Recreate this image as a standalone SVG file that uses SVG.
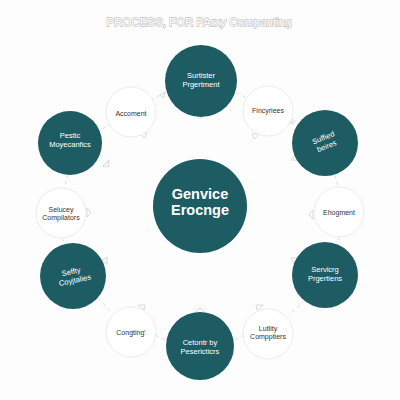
<svg xmlns="http://www.w3.org/2000/svg" width="400" height="400" viewBox="0 0 400 400">
<defs>
<style>
.dark{fill:#1e5c64}
.light{fill:#ffffff;stroke:#ececec;stroke-width:1}
.tw{fill:#ffffff;font-family:"Liberation Sans",Arial,sans-serif;font-size:7.5px;text-anchor:middle}
.tb{fill:#333333;font-family:"Liberation Sans",Arial,sans-serif;font-size:7px;text-anchor:middle}
.big{font-size:14.5px;font-weight:bold}
.conn{stroke:#d9d9d9;stroke-width:0.9;stroke-dasharray:4 3;fill:none}
.tri{fill:#ffffff;stroke:#cfcfcf;stroke-width:0.8}
</style>
</defs>
<rect width="400" height="400" fill="#fdfdfd"/>
<text x="199" y="26" font-family="Liberation Sans,Arial,sans-serif" font-size="11.5" text-anchor="middle" fill="#ffffff" stroke="#c4c4c4" stroke-width="1.3" paint-order="stroke">PROCESS, FOR PArxy Companting</text>
<g id="connectors">
<path class="conn" d="M166 92 L153 99"/>
<path class="conn" d="M236 92 L248 99"/>
<path class="conn" d="M112 124 L100 130"/>
<path class="conn" d="M290 122 L300 128"/>
<path class="conn" d="M68 174 L64 188"/>
<path class="conn" d="M335 175 L338 187"/>
<path class="conn" d="M62 238 L66 245"/>
<path class="conn" d="M340 237 L336 243"/>
<path class="conn" d="M98 298 L112 313"/>
<path class="conn" d="M305 300 L289 315"/>
<path class="conn" d="M155 335 L166 340"/>
<path class="conn" d="M245 335 L234 340"/>
<polygon class="tri" points="195,114 205,114 200,119"/>
<polygon class="tri" points="195,313 205,313 200,308"/>
<polygon class="tri" points="103,166 109,160 108,167"/>
<polygon class="tri" points="291,160 296,153 297,160"/>
<polygon class="tri" points="87,208 91,213 87,217"/>
<polygon class="tri" points="313,210 309,215 313,219"/>
<polygon class="tri" points="102,260 107,257 107,264"/>
<polygon class="tri" points="291,258 297,258 294,264"/>
<polygon class="tri" points="138,305 145,305 144,310"/>
<polygon class="tri" points="256,305 263,305 257,310"/>
<polygon class="tri" points="140,133 147,133 144,138"/>
<polygon class="tri" points="252,134 259,134 254,139"/>
<polygon class="tri" points="160,95 165,93 163,98"/>
<polygon class="tri" points="291,119 295,121 292,124"/>
</g>
<g id="center">
<circle class="dark" cx="200" cy="206" r="47"/>
<text class="tw big" x="200" y="199">Genvice</text>
<text class="tw big" x="200" y="215">Erocnge</text>
</g>
<g id="n-top">
<circle class="dark" cx="201" cy="81" r="36"/>
<text class="tw" x="201" y="78">Surtister</text>
<text class="tw" x="201" y="87">Prgertment</text>
</g>
<g id="n-fincyrlees">
<circle class="light" cx="268" cy="111" r="25"/>
<text class="tb" x="268" y="113">Fincyrlees</text>
</g>
<g id="n-suffied">
<circle class="dark" cx="325" cy="143" r="33"/>
<g transform="rotate(-22 325 142)">
<text class="tw" x="325" y="140">Suffied</text>
<text class="tw" x="325" y="149">beires</text>
</g>
</g>
<g id="n-ehogment">
<circle class="light" cx="339" cy="212" r="25"/>
<text class="tb" x="339" y="215">Ehogment</text>
</g>
<g id="n-servicrg">
<circle class="dark" cx="325" cy="275" r="33"/>
<text class="tw" x="325" y="272">Servicrg</text>
<text class="tw" x="325" y="281">Prgertiens</text>
</g>
<g id="n-lutlity">
<circle class="light" cx="268" cy="334" r="25"/>
<text class="tb" x="268" y="331">Lutlity</text>
<text class="tb" x="268" y="339">Compptiers</text>
</g>
<g id="n-cetontr">
<circle class="dark" cx="200" cy="346" r="34"/>
<text class="tw" x="200" y="345">Cetontr by</text>
<text class="tw" x="200" y="354">Pesericticrs</text>
</g>
<g id="n-congting">
<circle class="light" cx="131" cy="332" r="25"/>
<text class="tb" x="131" y="335">Congting'</text>
</g>
<g id="n-seffty">
<circle class="dark" cx="73" cy="276" r="33"/>
<g transform="rotate(-12 73 276)">
<text class="tw" x="72" y="274">Seffty</text>
<text class="tw" x="74" y="283">Coyjtalies</text>
</g>
</g>
<g id="n-selucey">
<circle class="light" cx="61" cy="213" r="25"/>
<text class="tb" x="61" y="212">Selucey</text>
<text class="tb" x="61" y="220">Compilators</text>
</g>
<g id="n-pestic">
<circle class="dark" cx="70" cy="143" r="32"/>
<text class="tw" x="70" y="138">Pestic</text>
<text class="tw" x="70" y="147">Moyecanfics</text>
</g>
<g id="n-accoment">
<circle class="light" cx="131" cy="112" r="25"/>
<text class="tb" x="131" y="116">Accoment</text>
</g>
</svg>
